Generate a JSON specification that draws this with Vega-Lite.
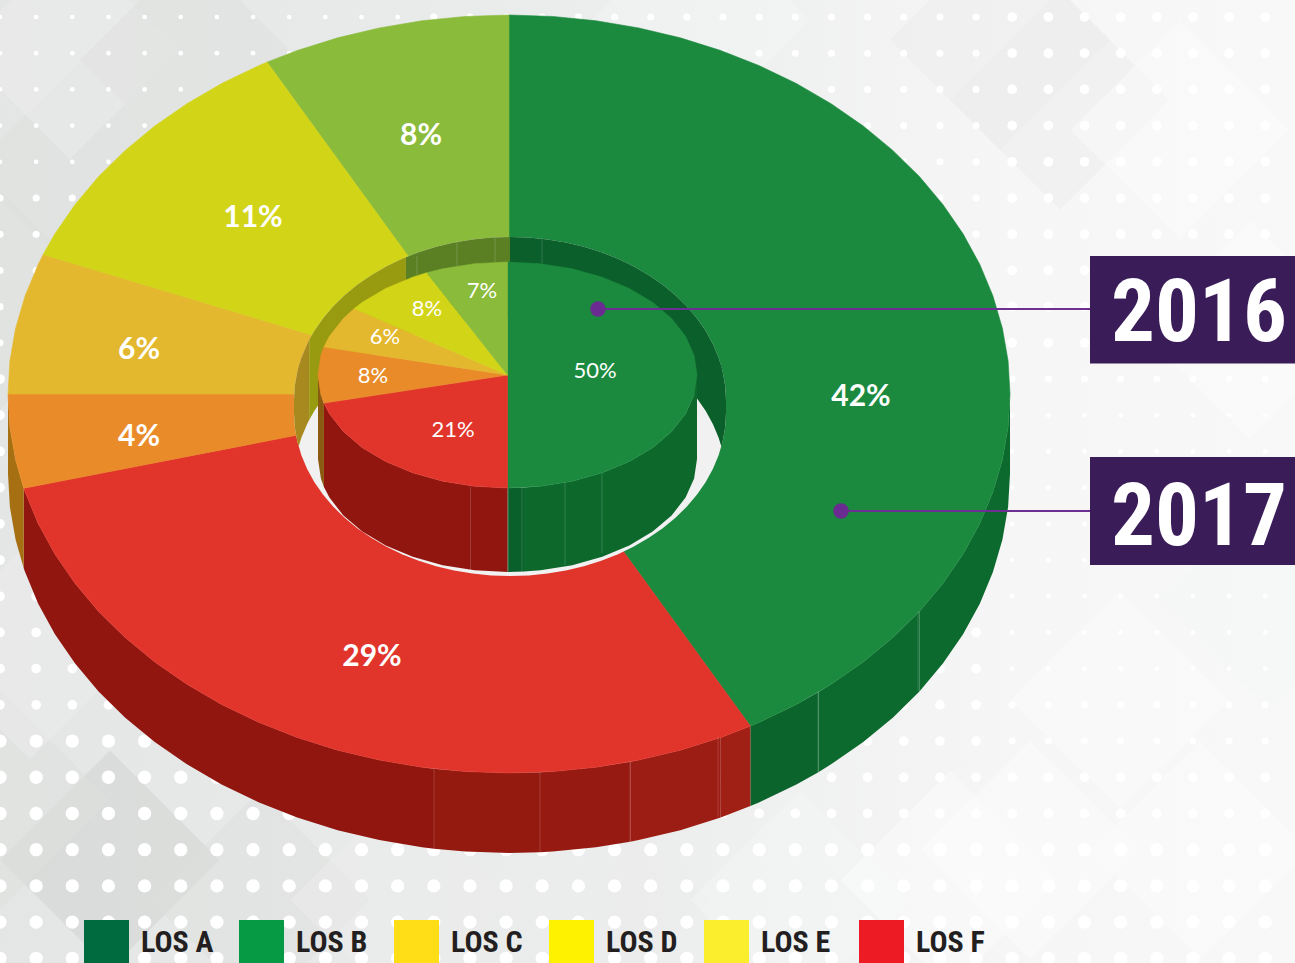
{
"$schema":"https://vega.github.io/schema/vega-lite/v6.json",
"width":1295,"height":963,"padding":0,"autosize":{"type":"none"},
"background":"#F1F2F2",
"config":{"view":{"stroke":null},"axis":{"disable":true}},
"datasets":{
"page":[{"x0":0,"x1":1295,"y0":0,"y1":963}],
"tiles":[
{"cx":110,"cy":860,"tone":"dark"},{"cx":0,"cy":800,"tone":"mid"},{"cx":260,"cy":900,"tone":"mid"},{"cx":30,"cy":650,"tone":"light"},{"cx":80,"cy":170,"tone":"mid"},{"cx":70,"cy":50,"tone":"light"},{"cx":190,"cy":60,"tone":"mid"},{"cx":0,"cy":300,"tone":"mid"},{"cx":700,"cy":20,"tone":"pale"},{"cx":1000,"cy":40,"tone":"light"},{"cx":1060,"cy":100,"tone":"light"},{"cx":1180,"cy":130,"tone":"white"},{"cx":1250,"cy":330,"tone":"white"},{"cx":1120,"cy":700,"tone":"white"},{"cx":1200,"cy":850,"tone":"white"},{"cx":1030,"cy":850,"tone":"white"},{"cx":1270,"cy":600,"tone":"pale"},{"cx":600,"cy":900,"tone":"light"},{"cx":400,"cy":900,"tone":"light"},{"cx":800,"cy":900,"tone":"pale"},{"cx":950,"cy":880,"tone":"white"}],
"dots":[
{"j":[0,1,2,3,4],"dot":22,"k":[0,1,2,3,4,5,6,7,8,9,10,11]},
{"j":[5,6,7,8,9],"dot":50,"k":[0,1,2,3,4,5,6,7,8,9,10,11]},
{"j":[10,11,12,13,14,15,16,17,18,19],"dot":95,"k":[0,1,2,3,4,5,6,7,8,9,10,11]},
{"j":[20,21,22,23,24,25,26],"dot":177,"k":[0,1,2,3,4,5,6,7,8,9,10,11]},
{"j":[0,1,2,3,4,5,6,7,8,9,10,11,12,13,14,15,16],"dot":50,"k":[12,13,14,15,16,17,18,19,20,21,22,23,24,25,26,27]},
{"j":[17,18,19,20,21,22],"dot":95,"k":[12,13,14,15,16,17,18,19,20,21,22,23,24,25,26,27]},
{"j":[23,24,25,26],"dot":177,"k":[12,13,14,15,16,17,18,19,20,21,22,23,24,25,26,27]},
{"j":[0,1,2,3,4,5,6,7,8,9],"dot":95,"k":[28,29,30,31,32,33,34,35]},
{"j":[10,19,20],"dot":50,"k":[28,29,30,31,32,33,34,35]},
{"j":[11,12,13,14,15,16,17,18],"dot":22,"k":[28,29,30,31,32,33,34,35]},
{"j":[21,22],"dot":95,"k":[28,29,30,31,32,33,34,35]},
{"j":[23,24,25,26],"dot":177,"k":[28,29,30,31,32,33,34,35]}],
"wall17":[
{"facet":"G1","u":[1,0.9962,0.9848,0.9659,0.9397,0.9063,0.866,0.8192],"v":[0,-0.0872,-0.1736,-0.2588,-0.342,-0.4226,-0.5,-0.5736],"w":[-0.2111,-0.2983,-0.3847,-0.4699,-0.5531,-0.6337,-0.7111,-0.7847]},
{"facet":"G2","u":[0.8192,0.766,0.7071,0.6428,0.6175],"v":[-0.5736,-0.6428,-0.7071,-0.766,-0.7866],"w":[-0.7847,-0.8539,-0.9182,-0.9771,-0.9977]},
{"facet":"G3","u":[0.6175,0.5736,0.5,0.4818],"v":[-0.7866,-0.8192,-0.866,-0.8763],"w":[-0.9977,-1.0303,-1.0771,-1.0874]},
{"facet":"R1","u":[0.4818,0.4226],"v":[-0.8763,-0.9063],"w":[-1.0874,-1.1174]},
{"facet":"R2","u":[0.4226,0.342,0.2588,0.2419],"v":[-0.9063,-0.9397,-0.9659,-0.9703],"w":[-1.1174,-1.1508,-1.177,-1.1814]},
{"facet":"R3","u":[0.2419,0.1736,0.0872,0.0619],"v":[-0.9703,-0.9848,-0.9962,-0.9981],"w":[-1.1814,-1.1959,-1.2073,-1.2092]},
{"facet":"R4","u":[0.0619,0,-0.0872,-0.1497],"v":[-0.9981,-1,-0.9962,-0.9887],"w":[-1.2092,-1.2111,-1.2073,-1.1998]},
{"facet":"R5","u":[-0.1497,-0.1736,-0.2588,-0.342,-0.4226,-0.5,-0.5736,-0.6428,-0.7071,-0.766,-0.8192,-0.866,-0.9063,-0.9397,-0.9659,-0.9686],"v":[-0.9887,-0.9848,-0.9659,-0.9397,-0.9063,-0.866,-0.8192,-0.766,-0.7071,-0.6428,-0.5736,-0.5,-0.4226,-0.342,-0.2588,-0.2487],"w":[-1.1998,-1.1959,-1.177,-1.1508,-1.1174,-1.0771,-1.0303,-0.9771,-0.9182,-0.8539,-0.7847,-0.7111,-0.6337,-0.5531,-0.4699,-0.4598]},
{"facet":"E","u":[-0.9686,-0.9848,-0.9962,-1],"v":[-0.2487,-0.1736,-0.0872,0],"w":[-0.4598,-0.3847,-0.2983,-0.2111]}],
"seams":[
{"x":434,"y":769,"y2":849},{"x":540,"y":772,"y2":852},{"x":630,"y":762,"y2":842},{"x":718,"y":737,"y2":817},{"x":818,"y":692,"y2":772},{"x":918,"y":611,"y2":691},
{"x":470.5,"y":487,"y2":570},{"x":508.5,"y":488,"y2":571},{"x":522,"y":488,"y2":571},{"x":565,"y":482,"y2":565},{"x":602,"y":472,"y2":553},
{"x":542,"y":238,"y2":263},{"x":495,"y":238,"y2":262},{"x":457,"y":241,"y2":266},{"x":417,"y":256,"y2":275}],
"top17":[
{"los":"A","share":42,"u":[0,0,0.0872,0.1736,0.2588,0.342,0.4226,0.5,0.5736,0.6428,0.7071,0.766,0.8192,0.866,0.9063,0.9397,0.9659,0.9848,0.9962,1,0.9962,0.9848,0.9659,0.9397,0.9063,0.866,0.8192,0.766,0.7071,0.6428,0.5736,0.5,0.4818],"v":[0,1,0.9962,0.9848,0.9659,0.9397,0.9063,0.866,0.8192,0.766,0.7071,0.6428,0.5736,0.5,0.4226,0.342,0.2588,0.1736,0.0872,0,-0.0872,-0.1736,-0.2588,-0.342,-0.4226,-0.5,-0.5736,-0.6428,-0.7071,-0.766,-0.8192,-0.866,-0.8763]},
{"los":"F","share":29,"u":[0,0.4818,0.4226,0.342,0.2588,0.1736,0.0872,0,-0.0872,-0.1736,-0.2588,-0.342,-0.4226,-0.5,-0.5736,-0.6428,-0.7071,-0.766,-0.8192,-0.866,-0.9063,-0.9397,-0.9659,-0.9686],"v":[0,-0.8763,-0.9063,-0.9397,-0.9659,-0.9848,-0.9962,-1,-0.9962,-0.9848,-0.9659,-0.9397,-0.9063,-0.866,-0.8192,-0.766,-0.7071,-0.6428,-0.5736,-0.5,-0.4226,-0.342,-0.2588,-0.2487]},
{"los":"E","share":4,"u":[0,-0.9686,-0.9848,-0.9962,-1],"v":[0,-0.2487,-0.1736,-0.0872,0]},
{"los":"D","share":6,"u":[0,-1,-0.9962,-0.9848,-0.9659,-0.9397,-0.9298],"v":[0,0,0.0872,0.1736,0.2588,0.342,0.3681]},
{"los":"C","share":11,"u":[0,-0.9298,-0.9063,-0.866,-0.8192,-0.766,-0.7071,-0.6428,-0.5736,-0.5,-0.4818],"v":[0,0.3681,0.4226,0.5,0.5736,0.6428,0.7071,0.766,0.8192,0.866,0.8763]},
{"los":"B","share":8,"u":[0,-0.4818,-0.4226,-0.342,-0.2588,-0.1736,-0.0872,0],"v":[0,0.8763,0.9063,0.9397,0.9659,0.9848,0.9962,1]}],
"holeOpen":[{"u":[-1,-0.9962,-0.9848,-0.9659,-0.9397,-0.9063,-0.866,-0.8192,-0.766,-0.7071,-0.6428,-0.5736,-0.5,-0.4226,-0.342,-0.2588,-0.1736,-0.0872,0,0.0872,0.1736,0.2588,0.342,0.4226,0.5,0.5736,0.6428,0.7071,0.766,0.8192,0.866,0.9063,0.9397,0.9659,0.9848,0.9962,1],"v":[0,0.0872,0.1736,0.2588,0.342,0.4226,0.5,0.5736,0.6428,0.7071,0.766,0.8192,0.866,0.9063,0.9397,0.9659,0.9848,0.9962,1,0.9962,0.9848,0.9659,0.9397,0.9063,0.866,0.8192,0.766,0.7071,0.6428,0.5736,0.5,0.4226,0.342,0.2588,0.1736,0.0872,0],"w":[-0.0798,-0.167,-0.2534,-0.3386,-0.4218,-0.5024,-0.5798,-0.6534,-0.7226,-0.7869,-0.8458,-0.899,-0.9458,-0.9861,-1.0195,-1.0457,-1.0646,-1.076,-1.0798,-1.076,-1.0646,-1.0457,-1.0195,-0.9861,-0.9458,-0.899,-0.8458,-0.7869,-0.7226,-0.6534,-0.5798,-0.5024,-0.4218,-0.3386,-0.2534,-0.167,-0.0798]}],
"holeWall":[
{"los":"D","u":[-1,-0.9962,-0.9848,-0.9786,-0.9659,-0.9397,-0.9298],"v":[0,0.0872,0.1736,0.2055,0.2588,0.342,0.3681],"w":[-0.0798,-0.167,-0.2534,-0.2853,-0.232,-0.1488,-0.1227]},
{"los":"C","u":[-0.9298,-0.9063,-0.866,-0.8192,-0.766,-0.7071,-0.6428,-0.5736,-0.5,-0.4818],"v":[0.3681,0.4226,0.5,0.5736,0.6428,0.7071,0.766,0.8192,0.866,0.8763],"w":[-0.1227,-0.0682,0.0092,0.0828,0.152,0.2163,0.2752,0.3284,0.3752,0.3855]},
{"los":"B","u":[-0.4818,-0.4226,-0.342,-0.2588,-0.1736,-0.0872,0],"v":[0.8763,0.9063,0.9397,0.9659,0.9848,0.9962,1],"w":[0.3855,0.4155,0.4489,0.4751,0.494,0.5054,0.5092]},
{"los":"A","u":[0,0.0872,0.1736,0.2588,0.342,0.4226,0.5,0.5736,0.6428,0.7071,0.766,0.8192,0.866,0.9063,0.9397,0.9659,0.9786,0.9848,0.9962,1],"v":[1,0.9962,0.9848,0.9659,0.9397,0.9063,0.866,0.8192,0.766,0.7071,0.6428,0.5736,0.5,0.4226,0.342,0.2588,0.2055,0.1736,0.0872,0],"w":[0.5092,0.5054,0.494,0.4751,0.4489,0.4155,0.3752,0.3284,0.2752,0.2163,0.152,0.0828,0.0092,-0.0682,-0.1488,-0.232,-0.2853,-0.2534,-0.167,-0.0798]}],
"wall16":[
{"facet":"A1","u":[1,0.9848,0.9397,0.866,0.766,0.6428,0.5,0.342,0.1736,0.0872],"v":[0,-0.1736,-0.342,-0.5,-0.6428,-0.766,-0.866,-0.9397,-0.9848,-0.9962],"w":[-0.743,-0.9166,-1.085,-1.243,-1.3858,-1.509,-1.609,-1.6827,-1.7278,-1.7392]},
{"facet":"A2","u":[0.0872,0],"v":[-0.9962,-1],"w":[-1.7392,-1.743]},
{"facet":"F","u":[0,-0.1736,-0.342,-0.5,-0.6428,-0.766,-0.866,-0.9397,-0.9686],"v":[-1,-0.9848,-0.9397,-0.866,-0.766,-0.6428,-0.5,-0.342,-0.2487],"w":[-1.743,-1.7278,-1.6827,-1.609,-1.509,-1.3858,-1.243,-1.085,-0.9917]},
{"facet":"E","u":[-0.9686,-0.9848,-1],"v":[-0.2487,-0.1736,0],"w":[-0.9917,-0.9166,-0.743]}],
"top16":[
{"los":"A","share":50,"u":[0,0,0.1736,0.342,0.5,0.6428,0.766,0.866,0.9397,0.9848,1,0.9848,0.9397,0.866,0.766,0.6428,0.5,0.342,0.1736,0],"v":[0,1,0.9848,0.9397,0.866,0.766,0.6428,0.5,0.342,0.1736,0,-0.1736,-0.342,-0.5,-0.6428,-0.766,-0.866,-0.9397,-0.9848,-1]},
{"los":"F","share":21,"u":[0,0,-0.1736,-0.342,-0.5,-0.6428,-0.766,-0.866,-0.9397,-0.9686],"v":[0,-1,-0.9848,-0.9397,-0.866,-0.766,-0.6428,-0.5,-0.342,-0.2487]},
{"los":"E","share":8,"u":[0,-0.9686,-0.9848,-1,-0.9848,-0.9686],"v":[0,-0.2487,-0.1736,0,0.1736,0.2487]},
{"los":"D","share":6,"u":[0,-0.9686,-0.9397,-0.866,-0.809],"v":[0,0.2487,0.342,0.5,0.5878]},
{"los":"C","share":8,"u":[0,-0.809,-0.766,-0.6428,-0.5,-0.4258],"v":[0,0.5878,0.6428,0.766,0.866,0.9048]},
{"los":"B","share":7,"u":[0,-0.4258,-0.342,-0.1736,0],"v":[0,0.9048,0.9397,0.9848,1]}],
"leaders":[{"x":598,"x2":1090,"y":309},{"x":841,"x2":1090,"y":511}],
"boxes":[{"year":"2016","x0":1090,"x1":1295,"y0":256,"y1":363.5,"cx":1199,"cy":341},{"year":"2017","x0":1090,"x1":1295,"y0":457,"y1":565,"cx":1199,"cy":545}],
"big":[{"t":"42%","cx":861,"cy":397},{"t":"29%","cx":372,"cy":657},{"t":"4%","cx":139,"cy":437},{"t":"6%","cx":139,"cy":350},{"t":"11%","cx":253,"cy":218},{"t":"8%","cx":421,"cy":136}],
"small":[{"t":"50%","cx":595,"cy":371},{"t":"21%","cx":453,"cy":430},{"t":"8%","cx":373,"cy":376},{"t":"6%","cx":385,"cy":337},{"t":"8%","cx":427,"cy":309},{"t":"7%","cx":482,"cy":291}],
"legendRows":[{"los":"LOS A"},{"los":"LOS B"},{"los":"LOS C"},{"los":"LOS D"},{"los":"LOS E"},{"los":"LOS F"}]
},
"resolve":{"scale":{"x":"independent","y":"independent","color":"independent","fill":"independent","stroke":"independent","size":"independent"}},
"layer":[
{"data":{"name":"page"},"mark":{"type":"rect","fill":{"gradient":"linear","x1":0,"x2":1,"y1":0,"y2":0,"stops":[{"offset":0,"color":"#E4E6E5"},{"offset":0.5,"color":"#ECEDED"},{"offset":0.78,"color":"#F6F6F6"},{"offset":1,"color":"#F8F8F8"}]}},
"encoding":{"x":{"field":"x0","type":"quantitative","scale":{"domain":[0,1295],"nice":false,"zero":false}},"x2":{"field":"x1"},"y":{"field":"y0","type":"quantitative","scale":{"domain":[963,0],"nice":false,"zero":false}},"y2":{"field":"y1"}}},
{"data":{"name":"tiles"},"mark":{"type":"point","shape":"diamond","filled":true,"size":48000,"opacity":0.5},
"encoding":{"x":{"field":"cx","type":"quantitative","scale":{"domain":[0,1295],"nice":false,"zero":false}},"y":{"field":"cy","type":"quantitative","scale":{"domain":[963,0],"nice":false,"zero":false}},"fill":{"field":"tone","type":"nominal","legend":null,"scale":{"domain":["dark","mid","light","pale","white"],"range":["#D0D2D0","#DDDFDE","#EBECEB","#F4F5F5","#FCFCFC"]}}}},
{"data":{"name":"dots"},"transform":[{"flatten":["j"]},{"flatten":["k"]}],"mark":{"type":"point","shape":"circle","filled":true,"fill":"#FFFFFF","opacity":1},
"encoding":{"x":{"field":"k","type":"quantitative","scale":{"domain":[0,35.823],"nice":false,"zero":false}},"y":{"field":"j","type":"quantitative","scale":{"domain":[26.13,-0.4696],"nice":false,"zero":false}},"size":{"field":"dot","type":"quantitative","legend":null,"scale":{"type":"linear","domain":[0,200],"range":[0,200],"zero":true}}}},
{"data":{"name":"wall17"},"transform":[{"flatten":["u","v","w"]}],"mark":{"type":"area","strokeWidth":0},
"encoding":{"x":{"field":"u","type":"quantitative","scale":{"domain":[-1.01597,1.56886],"nice":false,"zero":false}},"y":{"field":"v","type":"quantitative","scale":{"domain":[-1.50132,1.03958],"nice":false,"zero":false}},"y2":{"field":"w"},"color":{"field":"facet","type":"nominal","legend":null,"scale":{"domain":["G1","G2","G3","R1","R2","R3","R4","R5","E"],"range":["#0D6A2E","#0D6A2E","#0B642B","#A12015","#9C1D14","#971A12","#94190F","#90160F","#A66F12"]}}}},
{"data":{"name":"top17"},"transform":[{"flatten":["u","v"]},{"window":[{"op":"row_number","as":"i"}]}],"mark":{"type":"line","interpolate":"linear-closed","strokeWidth":0.6},
"encoding":{"order":{"field":"i","type":"quantitative"},"x":{"field":"u","type":"quantitative","scale":{"domain":[-1.01597,1.56886],"nice":false,"zero":false}},"y":{"field":"v","type":"quantitative","scale":{"domain":[-1.50132,1.03958],"nice":false,"zero":false}},"color":{"field":"los","type":"nominal","legend":null,"scale":{"domain":["A","B","C","D","E","F"],"range":["#1B8A3E","#8ABB3A","#D2D418","#E4B82E","#E98B29","#E1342B"]}},"fill":{"field":"los","type":"nominal","legend":null,"scale":{"domain":["A","B","C","D","E","F"],"range":["#1B8A3E","#8ABB3A","#D2D418","#E4B82E","#E98B29","#E1342B"]}}}},
{"data":{"name":"holeOpen"},"transform":[{"flatten":["u","v","w"]}],"mark":{"type":"area","fill":"#F1F1F1"},
"encoding":{"x":{"field":"u","type":"quantitative","scale":{"domain":[-2.36111,3.63426],"nice":false,"zero":false}},"y":{"field":"v","type":"quantitative","scale":{"domain":[-3.45399,2.45399],"nice":false,"zero":false}},"y2":{"field":"w"}}},
{"data":{"name":"holeWall"},"transform":[{"flatten":["u","v","w"]}],"mark":{"type":"area"},
"encoding":{"x":{"field":"u","type":"quantitative","scale":{"domain":[-2.36111,3.63426],"nice":false,"zero":false}},"y":{"field":"v","type":"quantitative","scale":{"domain":[-3.45399,2.45399],"nice":false,"zero":false}},"y2":{"field":"w"},"color":{"field":"los","type":"nominal","legend":null,"scale":{"domain":["A","B","C","D"],"range":["#0A5F2A","#5B8024","#989A10","#A8891F"]}}}},
{"data":{"name":"wall16"},"transform":[{"flatten":["u","v","w"]}],"mark":{"type":"area"},
"encoding":{"x":{"field":"u","type":"quantitative","scale":{"domain":[-2.6781,4.15567],"nice":false,"zero":false}},"y":{"field":"v","type":"quantitative","scale":{"domain":[-5.20354,3.31858],"nice":false,"zero":false}},"y2":{"field":"w"},"color":{"field":"facet","type":"nominal","legend":null,"scale":{"domain":["A1","A2","F","E"],"range":["#0D682C","#09602A","#90160F","#8A5A10"]}}}},
{"data":{"name":"seams"},"mark":{"type":"rule","stroke":"#FFFFFF","strokeOpacity":0.16,"strokeWidth":1},
"encoding":{"x":{"field":"x","type":"quantitative","scale":{"domain":[0,1295],"nice":false,"zero":false}},"y":{"field":"y","type":"quantitative","scale":{"domain":[963,0],"nice":false,"zero":false}},"y2":{"field":"y2"}}},
{"data":{"name":"top16"},"transform":[{"flatten":["u","v"]},{"window":[{"op":"row_number","as":"i"}]}],"mark":{"type":"line","interpolate":"linear-closed","strokeWidth":0.6},
"encoding":{"order":{"field":"i","type":"quantitative"},"x":{"field":"u","type":"quantitative","scale":{"domain":[-2.6781,4.15567],"nice":false,"zero":false}},"y":{"field":"v","type":"quantitative","scale":{"domain":[-5.20354,3.31858],"nice":false,"zero":false}},"color":{"field":"los","type":"nominal","legend":null,"scale":{"domain":["A","B","C","D","E","F"],"range":["#1B8A3E","#8ABB3A","#D2D418","#E4B82E","#E98B29","#E1342B"]}},"fill":{"field":"los","type":"nominal","legend":null,"scale":{"domain":["A","B","C","D","E","F"],"range":["#1B8A3E","#8ABB3A","#D2D418","#E4B82E","#E98B29","#E1342B"]}}}},
{"data":{"name":"leaders"},"mark":{"type":"rule","stroke":"#6D2F93","strokeWidth":2},
"encoding":{"x":{"field":"x","type":"quantitative","scale":{"domain":[0,1295],"nice":false,"zero":false}},"x2":{"field":"x2"},"y":{"field":"y","type":"quantitative","scale":{"domain":[963,0],"nice":false,"zero":false}}}},
{"data":{"name":"leaders"},"mark":{"type":"circle","fill":"#6B2C91","size":240,"opacity":1},
"encoding":{"x":{"field":"x","type":"quantitative","scale":{"domain":[0,1295],"nice":false,"zero":false}},"y":{"field":"y","type":"quantitative","scale":{"domain":[963,0],"nice":false,"zero":false}}}},
{"data":{"name":"boxes"},"mark":{"type":"rect","fill":"#3A1D58"},
"encoding":{"x":{"field":"x0","type":"quantitative","scale":{"domain":[0,1295],"nice":false,"zero":false}},"x2":{"field":"x1"},"y":{"field":"y0","type":"quantitative","scale":{"domain":[963,0],"nice":false,"zero":false}},"y2":{"field":"y1"}}},
{"data":{"name":"boxes"},"mark":{"type":"text","font":"Roboto Condensed, Roboto","fontWeight":"bold","fontSize":87,"fill":"#FFFFFF","align":"center","baseline":"alphabetic"},
"encoding":{"text":{"field":"year"},"x":{"field":"cx","type":"quantitative","scale":{"domain":[0,1295],"nice":false,"zero":false}},"y":{"field":"cy","type":"quantitative","scale":{"domain":[963,0],"nice":false,"zero":false}}}},
{"data":{"name":"big"},"mark":{"type":"text","font":"Lato","fontWeight":"bold","fontSize":30,"fill":"#FFFFFF","align":"center","baseline":"middle"},
"encoding":{"text":{"field":"t"},"x":{"field":"cx","type":"quantitative","scale":{"domain":[0,1295],"nice":false,"zero":false}},"y":{"field":"cy","type":"quantitative","scale":{"domain":[963,0],"nice":false,"zero":false}}}},
{"data":{"name":"small"},"mark":{"type":"text","font":"Lato","fontSize":22,"fill":"#FFFFFF","align":"center","baseline":"middle"},
"encoding":{"text":{"field":"t"},"x":{"field":"cx","type":"quantitative","scale":{"domain":[0,1295],"nice":false,"zero":false}},"y":{"field":"cy","type":"quantitative","scale":{"domain":[963,0],"nice":false,"zero":false}}}},
{"data":{"name":"legendRows"},"mark":{"type":"square","opacity":0,"size":1},
"encoding":{"color":{"field":"los","type":"nominal","scale":{"domain":["LOS A","LOS B","LOS C","LOS D","LOS E","LOS F"],"range":["#006B3F","#069A44","#FFDE17","#FFF200","#FBEE2D","#ED1C24"]},
"legend":{"title":null,"orient":"none","legendX":84,"legendY":920,"direction":"horizontal","columns":6,"gridAlign":"all","columnPadding":25,"symbolType":"square","symbolSize":2025,"symbolOpacity":1,"symbolStrokeWidth":0,"labelFont":"Roboto Condensed, Roboto","labelFontWeight":"bold","labelFontSize":30,"labelColor":"#231F20","labelOffset":12,"padding":0}}}}
]}
